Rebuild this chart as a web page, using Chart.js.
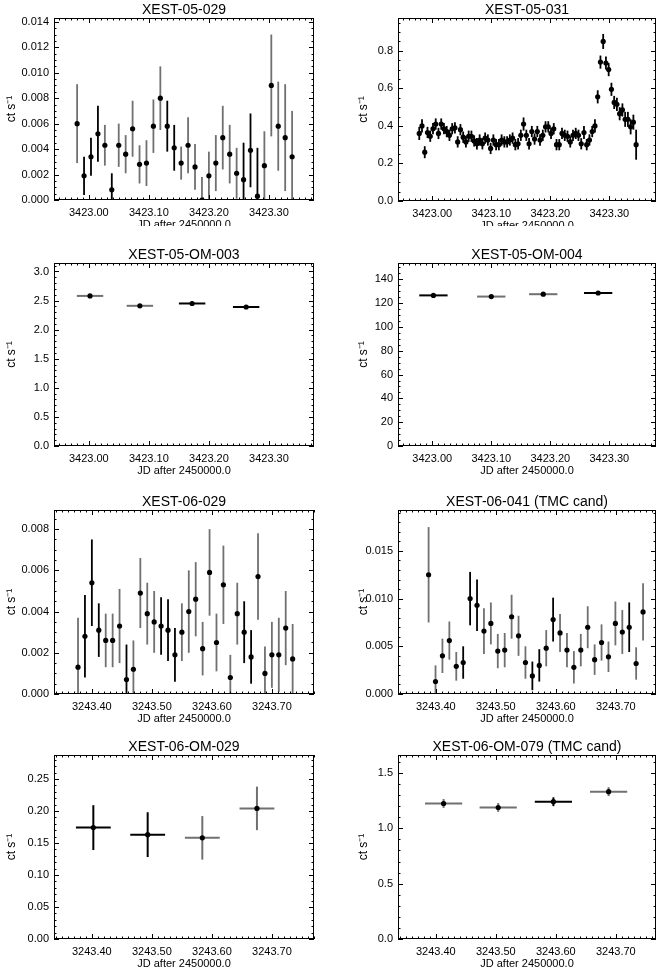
<!DOCTYPE html>
<html><head><meta charset="utf-8">
<script src="https://cdn.jsdelivr.net/npm/chart.js@4/dist/chart.umd.min.js"></script>
<style>
html,body{margin:0;padding:0;background:#fff;width:659px;height:968px;overflow:hidden}
canvas{position:absolute}
</style></head><body>
<script>
// ---------- data ----------
const titles = ["XEST-05-029","XEST-05-031","XEST-05-OM-003","XEST-05-OM-004","XEST-06-029","XEST-06-041 (TMC cand)","XEST-06-OM-029","XEST-06-OM-079 (TMC cand)"];
const xTicks05 = [3423.00,3423.10,3423.20,3423.30];
const xTicks06 = [3243.40,3243.50,3243.60,3243.70];

// XEST-05-029
const p1x0 = 3422.9805, p1dx = 0.01155;
const p1y = [0.0060,0.0019,0.0034,0.0052,0.0043,0.0008,0.0043,0.0036,0.0056,0.0028,0.0029,0.0058,0.0080,0.0058,0.0041,0.0029,0.0043,0.0026,0.0000,0.0019,0.0029,0.0049,0.0036,0.0021,0.0016,0.0039,0.0003,0.0027,0.0090,0.0058,0.0049,0.0034];
const p1e = [0.0031,0.0015,0.0015,0.0022,0.0016,0.0013,0.0017,0.0015,0.0022,0.0015,0.0018,0.0021,0.0025,0.0020,0.0018,0.0013,0.0022,0.0018,0.0018,0.0019,0.0022,0.0025,0.0023,0.0020,0.0029,0.0029,0.0038,0.0027,0.0040,0.0035,0.0042,0.0036];
const p1c = [1,0,0,0,1,0,1,1,1,1,1,1,1,0,0,1,1,1,1,1,1,1,1,1,0,0,0,1,1,1,1,1];

// XEST-05-031
const p2x0 = 3422.978, p2dx = 0.00465;
const p2y = [0.36,0.40,0.26,0.365,0.345,0.385,0.41,0.36,0.41,0.385,0.37,0.35,0.385,0.39,0.315,0.38,0.34,0.315,0.345,0.345,0.32,0.305,0.325,0.305,0.335,0.325,0.28,0.325,0.30,0.30,0.325,0.315,0.315,0.325,0.335,0.30,0.305,0.35,0.41,0.35,0.305,0.37,0.33,0.37,0.325,0.35,0.395,0.395,0.36,0.385,0.30,0.30,0.36,0.35,0.345,0.315,0.35,0.36,0.35,0.305,0.365,0.30,0.325,0.37,0.40,0.555,0.74,0.85,0.735,0.70,0.595,0.525,0.515,0.465,0.485,0.435,0.435,0.395,0.42,0.30];
const p2e = [0.035,0.035,0.032,0.03,0.03,0.03,0.03,0.03,0.03,0.03,0.03,0.03,0.03,0.03,0.03,0.03,0.03,0.03,0.03,0.03,0.03,0.03,0.03,0.03,0.03,0.03,0.03,0.03,0.03,0.03,0.03,0.03,0.03,0.03,0.03,0.03,0.03,0.03,0.035,0.03,0.03,0.03,0.03,0.03,0.03,0.03,0.03,0.03,0.03,0.03,0.03,0.03,0.03,0.03,0.03,0.03,0.03,0.03,0.03,0.03,0.035,0.03,0.03,0.03,0.035,0.035,0.035,0.04,0.035,0.035,0.035,0.035,0.035,0.035,0.035,0.04,0.04,0.04,0.04,0.08];

// XEST-05-OM-003
const p3x = [3423.002,3423.085,3423.172,3423.262];
const p3y = [2.58,2.41,2.45,2.39];
const p3e = [0.03,0.03,0.03,0.03];
const p3w = [0.022,0.022,0.022,0.022];
const p3c = [1,1,0,0];

// XEST-05-OM-004
const p4x = [3423.002,3423.100,3423.188,3423.281];
const p4y = [126.5,125.5,127.5,128.5];
const p4e = [1.2,1.2,1.2,1.2];
const p4w = [0.024,0.024,0.024,0.024];
const p4c = [0,1,1,0];

// XEST-06-029
const p5x0 = 3243.377, p5dx = 0.01153;
const p5y = [0.0013,0.0028,0.0054,0.0031,0.0026,0.0026,0.0033,0.0007,0.0012,0.0049,0.0039,0.0035,0.0033,0.0031,0.0019,0.0030,0.0040,0.0046,0.0022,0.0059,0.0025,0.0053,0.0008,0.0039,0.0030,0.0018,0.0057,0.0010,0.0019,0.0019,0.0032,0.0017];
const p5e = [0.0024,0.0020,0.0021,0.0013,0.0013,0.0013,0.0018,0.0017,0.0014,0.0017,0.0015,0.0015,0.0014,0.0015,0.0013,0.0014,0.0020,0.0018,0.0013,0.0021,0.0014,0.0019,0.0011,0.0015,0.0015,0.0013,0.0021,0.0013,0.0016,0.0018,0.0018,0.0017];
const p5c = [1,0,0,0,1,1,1,0,1,1,1,1,0,0,0,1,1,1,1,1,1,1,1,1,0,0,1,1,1,1,1,1];

// XEST-06-041
const p6x0 = 3243.388, p6dx = 0.01153;
const p6y = [0.0125,0.0013,0.0040,0.0056,0.0029,0.0033,0.0100,0.0093,0.0066,0.0074,0.0045,0.0046,0.0081,0.0061,0.0033,0.0019,0.0030,0.0048,0.0078,0.0064,0.0046,0.0028,0.0046,0.0070,0.0036,0.0054,0.0039,0.0074,0.0065,0.0070,0.0032,0.0086];
const p6e = [0.0050,0.0017,0.0018,0.0020,0.0015,0.0017,0.0028,0.0027,0.0024,0.0022,0.0018,0.0018,0.0023,0.0021,0.0017,0.0015,0.0017,0.0019,0.0023,0.0020,0.0018,0.0017,0.0017,0.0022,0.0016,0.0019,0.0016,0.0023,0.0023,0.0026,0.0017,0.0030];
const p6c = [1,1,1,1,1,0,0,0,1,1,1,1,1,1,1,0,0,1,0,1,1,1,1,1,1,1,1,1,1,0,1,1];

// XEST-06-OM-029
const p7x = [3243.4025,3243.493,3243.584,3243.675];
const p7y = [0.174,0.163,0.158,0.204];
const p7e = [0.035,0.035,0.034,0.034];
const p7w = [0.029,0.029,0.029,0.029];
const p7c = [0,0,1,1];

// XEST-06-OM-079
const p8x = [3243.413,3243.504,3243.596,3243.688];
const p8y = [1.224,1.188,1.240,1.331];
const p8e = [0.04,0.04,0.04,0.04];
const p8w = [0.031,0.031,0.031,0.031];
const p8c = [1,1,0,1];

function seq(x0,dx,n){const a=[];for(let i=0;i<n;i++)a.push(x0+i*dx);return a;}
const zeros = n => new Array(n).fill(0);

const panels = [
 {x:seq(p1x0,p1dx,p1y.length),y:p1y,e:p1e,w:zeros(p1y.length),c:p1c,xmin:3422.942,xmax:3423.375,xt:xTicks05,xminor:0.01,ymin:0,ymax:0.0143,ystep:0.002,yminor:0.0005,yd:3},
 {x:seq(p2x0,p2dx,p2y.length),y:p2y,e:p2e,w:zeros(p2y.length),c:zeros(p2y.length),xmin:3422.942,xmax:3423.379,xt:xTicks05,xminor:0.01,ymin:0,ymax:0.975,ystep:0.2,yminor:0.05,yd:1},
 {x:p3x,y:p3y,e:p3e,w:p3w,c:p3c,xmin:3422.942,xmax:3423.375,xt:xTicks05,xminor:0.01,ymin:0,ymax:3.146,ystep:0.5,yminor:0.1,yd:1},
 {x:p4x,y:p4y,e:p4e,w:p4w,c:p4c,xmin:3422.942,xmax:3423.379,xt:xTicks05,xminor:0.01,ymin:0,ymax:153.7,ystep:20,yminor:5,yd:0},
 {x:seq(p5x0,p5dx,p5y.length),y:p5y,e:p5e,w:zeros(p5y.length),c:p5c,xmin:3243.337,xmax:3243.770,xt:xTicks06,xminor:0.01,ymin:0,ymax:0.00893,ystep:0.002,yminor:0.0005,yd:3},
 {x:seq(p6x0,p6dx,p6y.length),y:p6y,e:p6e,w:zeros(p6y.length),c:p6c,xmin:3243.337,xmax:3243.767,xt:xTicks06,xminor:0.01,ymin:0,ymax:0.01929,ystep:0.005,yminor:0.001,yd:3},
 {x:p7x,y:p7y,e:p7e,w:p7w,c:p7c,xmin:3243.337,xmax:3243.770,xt:xTicks06,xminor:0.01,ymin:0,ymax:0.2874,ystep:0.05,yminor:0.01,yd:2},
 {x:p8x,y:p8y,e:p8e,w:p8w,c:p8c,xmin:3243.337,xmax:3243.767,xt:xTicks06,xminor:0.01,ymin:0,ymax:1.662,ystep:0.5,yminor:0.1,yd:1}
];
// layout (page coords)
const cells = [[0,0,329,226],[329,0,330,226],[0,242,329,243],[329,242,330,243],[0,485,329,243],[329,485,330,243],[0,728,329,240],[329,728,330,240]];
const plots = [[54,18,314,200],[398,18,656,201],[54,263,314,446],[398,263,656,446],[54,510,314,694],[398,510,656,694],[54,755,314,939],[398,755,656,939]];
const FONT = "'Liberation Sans', Arial, sans-serif";
const GRAY = '#707070';

const deco = {
 id:'deco',
 beforeDatasetsDraw(chart){
  const o = chart.options.plugins.deco, p = o.panel, ctx = chart.ctx;
  const xs = chart.scales.x, ys = chart.scales.y;
  ctx.save();
  for(let i=0;i<p.y.length;i++){
    ctx.strokeStyle = p.c[i] ? GRAY : '#000';
    ctx.lineWidth = p.w[i] ? 2 : 1.8;
    const px = xs.getPixelForValue(p.x[i]);
    const y1 = ys.getPixelForValue(Math.max(p.ymin, p.y[i]-p.e[i]));
    const y2 = ys.getPixelForValue(p.y[i]+p.e[i]);
    ctx.beginPath(); ctx.moveTo(px,y1); ctx.lineTo(px,y2); ctx.stroke();
    if(p.w[i]){
      const py = ys.getPixelForValue(p.y[i]);
      ctx.beginPath(); ctx.moveTo(xs.getPixelForValue(p.x[i]-p.w[i]),py); ctx.lineTo(xs.getPixelForValue(p.x[i]+p.w[i]),py); ctx.stroke();
    }
  }
  ctx.restore();
 },
 afterDraw(chart){
  const o = chart.options.plugins.deco, p = o.panel, ctx = chart.ctx, a = chart.chartArea;
  const xs = chart.scales.x, ys = chart.scales.y;
  ctx.save();
  ctx.strokeStyle='#000'; ctx.lineWidth=1;
  ctx.strokeRect(a.left+0.5,a.top+0.5,a.right-a.left-1,a.bottom-a.top-1);
  ctx.beginPath();
  const xs0 = Math.ceil(p.xmin/p.xminor - 1e-6)*p.xminor;
  for(let v=xs0; v<=p.xmax+1e-9; v+=p.xminor){
    const px = Math.round(xs.getPixelForValue(v))+0.5;
    const major = p.xt.some(t=>Math.abs(t-v)<1e-6);
    const L = major?5:2.5;
    ctx.moveTo(px,a.bottom); ctx.lineTo(px,a.bottom-L);
    ctx.moveTo(px,a.top); ctx.lineTo(px,a.top+L);
  }
  for(let v=p.ymin; v<=p.ymax+1e-12; v+=p.yminor){
    const py = Math.round(ys.getPixelForValue(v))+0.5;
    const r = v/p.ystep; const major = Math.abs(r-Math.round(r))<1e-6;
    const L = major?5:2.5;
    ctx.moveTo(a.left,py); ctx.lineTo(a.left+L,py);
    ctx.moveTo(a.right,py); ctx.lineTo(a.right-L,py);
  }
  ctx.stroke();
  ctx.fillStyle='#000';
  ctx.textAlign='center'; ctx.textBaseline='alphabetic';
  ctx.font='14px '+FONT;
  ctx.fillText(o.title,(a.left+a.right)/2,a.top-4);
  ctx.font='11px '+FONT;
  ctx.fillText('JD after 2450000.0',(a.left+a.right)/2,a.bottom+28);
  ctx.translate(o.ytx,(a.top+a.bottom)/2); ctx.rotate(-Math.PI/2);
  ctx.textBaseline='middle';
  ctx.font='12px '+FONT;
  ctx.fillText('ct s\u207B\u00B9',0,0);
  ctx.restore();
 }
};

panels.forEach((p,k)=>{
  const [cx,cy,cw,ch] = cells[k], [l,t,r,b] = plots[k];
  const cv = document.createElement('canvas');
  cv.style.left=cx+'px'; cv.style.top=cy+'px'; cv.style.width=cw+'px'; cv.style.height=ch+'px';
  cv.width=cw; cv.height=ch;
  document.body.appendChild(cv);
  const pts = p.x.map((x,i)=>({x:x,y:p.y[i]}));
  const ytx = (k%2===0) ? 12 : 35;
  new Chart(cv,{
    type:'scatter',
    data:{datasets:[{data:pts,pointRadius:2.6,pointHoverRadius:2.6,pointBackgroundColor:'#000',pointBorderWidth:0,showLine:false}]},
    plugins:[deco],
    options:{
      responsive:false,animation:false,devicePixelRatio:1,
      layout:{padding:{left:0,top:t-cy,right:cx+cw-r,bottom:0}},
      plugins:{legend:{display:false},tooltip:{enabled:false},
        deco:{panel:p,title:titles[k],ytx:ytx}},
      scales:{
        x:{type:'linear',min:p.xmin,max:p.xmax,
          afterBuildTicks:s=>{s.ticks=p.xt.map(v=>({value:v}));},
          afterFit:s=>{s.height=cy+ch-b;},
          grid:{display:false,drawTicks:false,tickLength:0},border:{display:false},
          ticks:{autoSkip:false,maxRotation:0,padding:6,color:'#000',font:{family:FONT,size:11},callback:v=>v.toFixed(2)}},
        y:{type:'linear',min:p.ymin,max:p.ymax,
          afterBuildTicks:s=>{const a=[];for(let v=p.ymin;v<=p.ymax+1e-12;v+=p.ystep)a.push({value:+v.toFixed(6)});s.ticks=a;},
          afterFit:s=>{s.width=l-cx;},
          grid:{display:false,drawTicks:false,tickLength:0},border:{display:false},
          ticks:{padding:5,color:'#000',font:{family:FONT,size:11},callback:v=>v.toFixed(p.yd)}}
      }
    }
  });
});
</script>
</body></html>
